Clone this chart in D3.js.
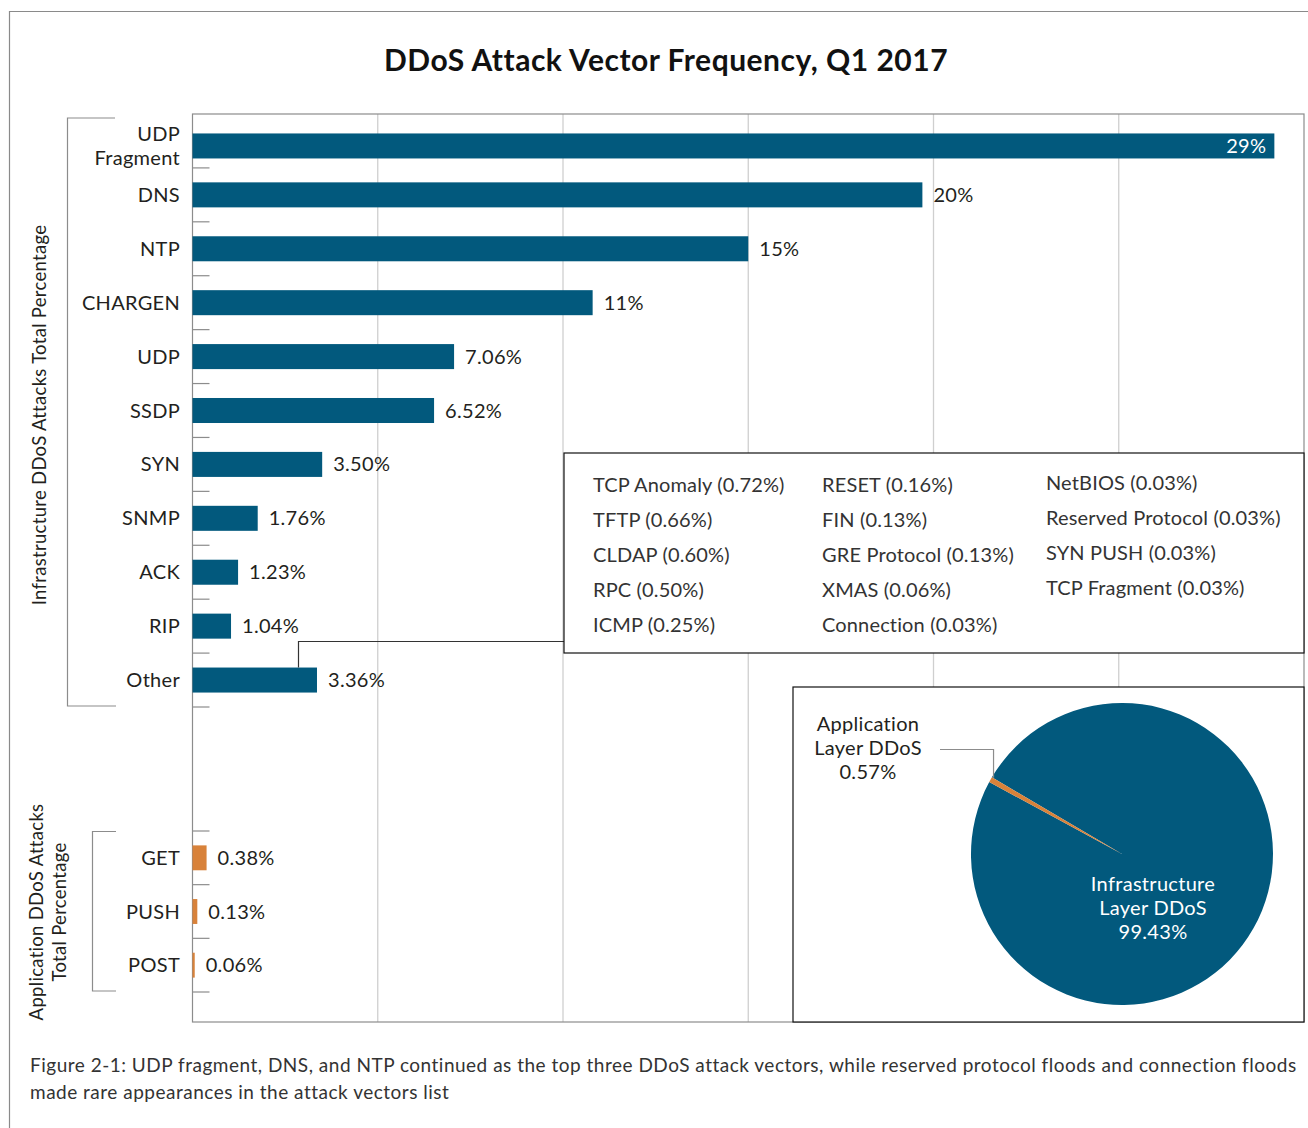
<!DOCTYPE html>
<html>
<head>
<meta charset="utf-8">
<script src="https://cdn.jsdelivr.net/npm/d3@7"></script>
<style>
  body { margin: 0; background: #fff; }
  svg text { font-family: Lato, "Open Sans", sans-serif; }
</style>
</head>
<body>
<svg id="chart" width="1308" height="1128"></svg>
<script>
// infrastructure vectors
var infraCats = ["UDP\nFragment", "DNS", "NTP", "CHARGEN", "UDP", "SSDP", "SYN", "SNMP", "ACK", "RIP", "Other"];
var infraVals = [29.2, 19.7, 15.0, 10.8, 7.06, 6.52, 3.50, 1.76, 1.23, 1.04, 3.36];
var infraLabels = ["29%", "20%", "15%", "11%", "7.06%", "6.52%", "3.50%", "1.76%", "1.23%", "1.04%", "3.36%"];

// application vectors
var appCats = ["GET", "PUSH", "POST"];
var appVals = [0.38, 0.13, 0.06];
var appLabels = ["0.38%", "0.13%", "0.06%"];

// what "Other" is made of
var otherCol1 = ["TCP Anomaly (0.72%)", "TFTP (0.66%)", "CLDAP (0.60%)", "RPC (0.50%)", "ICMP (0.25%)"];
var otherCol2 = ["RESET (0.16%)", "FIN (0.13%)", "GRE Protocol (0.13%)", "XMAS (0.06%)", "Connection (0.03%)"];
var otherCol3 = ["NetBIOS (0.03%)", "Reserved Protocol (0.03%)", "SYN PUSH (0.03%)", "TCP Fragment (0.03%)"];

// layer split
var pieNames = ["Infrastructure\nLayer DDoS\n99.43%", "Application\nLayer DDoS\n0.57%"];
var pieVals = [99.43, 0.57];

var gridTicks = [0, 5, 10, 15, 20, 25, 30];

var BLUE = "#02597d", ORANGE = "#d8823a", TXT = "#231f20";

var svg = d3.select("#chart");

// outer frame
svg.append("path").attr("d", "M9.5,1130 V11.5 H1310")
    .attr("fill", "none").attr("stroke", "#8a8a8a").attr("stroke-width", 1.2);

svg.append("text").attr("x", 666).attr("y", 71).attr("text-anchor", "middle")
    .style("font-size", "30px").style("font-weight", "bold").style("letter-spacing", "0.5px")
    .attr("fill", "#111")
    .text("DDoS Attack Vector Frequency, Q1 2017");

var pLeft = 192.5, pRight = 1304, pTop = 114, pBottom = 1022;
var x = d3.scaleLinear().domain([0, 30]).range([pLeft, pRight]);
var yI = d3.scaleBand().domain(infraCats).range([pTop, 707]).paddingInner(0.536).paddingOuter(0.268);
var yA = d3.scaleBand().domain(appCats).range([831, 992]).paddingInner(0.536).paddingOuter(0.268);

// first row sits a bit lower because of its two-line name
function yPos(scale, d) { return scale(d) + (d.indexOf("\n") >= 0 ? 5 : 0); }

// grid
svg.append("g").selectAll("line").data(gridTicks.slice(1, -1)).join("line")
    .attr("x1", function(d) { return x(d); }).attr("x2", function(d) { return x(d); })
    .attr("y1", pTop).attr("y2", pBottom)
    .attr("stroke", "#cfcfcf").attr("stroke-width", 1.3);

svg.append("rect").attr("x", pLeft).attr("y", pTop).attr("width", pRight - pLeft).attr("height", pBottom - pTop)
    .attr("fill", "none").attr("stroke", "#8c8c8c").attr("stroke-width", 1.2);

function drawGroup(scale, cats, vals, labels, color) {
    var g = svg.append("g");
    var half = scale.step() * scale.paddingInner() / 2;
    // tick marks at band edges
    var edges = [];
    cats.forEach(function(c, i) {
        if (i == 0 && scale(c) - half > pTop + 2) edges.push(scale(c) - half);
        edges.push(scale(c) + scale.bandwidth() + half);
    });
    g.selectAll("line.tk").data(edges).join("line")
        .attr("x1", pLeft).attr("x2", pLeft + 17)
        .attr("y1", function(d) { return d; }).attr("y2", function(d) { return d; })
        .attr("stroke", "#8c8c8c").attr("stroke-width", 1.2);

    g.selectAll("rect").data(cats).join("rect")
        .attr("x", x(0)).attr("y", function(d) { return yPos(scale, d); })
        .attr("width", function(d, i) { return x(vals[i]) - x(0); })
        .attr("height", scale.bandwidth())
        .attr("fill", color);

    // category names
    g.selectAll("text.cat").data(cats).join("text")
        .attr("class", "cat")
        .attr("x", 180)
        .attr("y", function(d) { return yPos(scale, d) + scale.bandwidth() / 2 + 7; })
        .attr("text-anchor", "end").attr("fill", TXT)
        .style("font-size", "20px").style("letter-spacing", "0.3px")
        .each(function(d) {
            var lines = d.split("\n");
            var t = d3.select(this);
            lines.forEach(function(l, j) {
                t.append("tspan").attr("x", 180)
                    .attr("dy", j == 0 ? (-(lines.length - 1) * 12) : 24).text(l);
            });
        });

    // value labels
    g.selectAll("text.val").data(cats).join("text")
        .attr("class", "val")
        .attr("x", function(d, i) { return vals[i] > 25 ? x(vals[i]) - 8 : x(vals[i]) + 11; })
        .attr("y", function(d) { return yPos(scale, d) + scale.bandwidth() / 2 + 7; })
        .attr("text-anchor", function(d, i) { return vals[i] > 25 ? "end" : "start"; })
        .attr("fill", function(d, i) { return vals[i] > 25 ? "#fff" : TXT; })
        .style("font-size", "20px").style("letter-spacing", "0.3px")
        .text(function(d, i) { return labels[i]; });
}
drawGroup(yI, infraCats, infraVals, infraLabels, BLUE);
drawGroup(yA, appCats, appVals, appLabels, ORANGE);

// brackets
svg.append("path").attr("d", "M115,118 H67.5 V706 H116")
    .attr("fill", "none").attr("stroke", "#8c8c8c").attr("stroke-width", 1.2);
svg.append("path").attr("d", "M116,831.5 H92.5 V991 H116")
    .attr("fill", "none").attr("stroke", "#8c8c8c").attr("stroke-width", 1.2);

svg.append("text").attr("transform", "translate(46,415) rotate(-90)")
    .attr("text-anchor", "middle").attr("fill", TXT)
    .style("font-size", "18.5px").style("letter-spacing", "0.3px")
    .text("Infrastructure DDoS Attacks Total Percentage");
var at = svg.append("text").attr("transform", "translate(43,912) rotate(-90)")
    .attr("text-anchor", "middle").attr("fill", TXT)
    .style("font-size", "18.5px").style("letter-spacing", "0.3px");
at.append("tspan").attr("x", 0).attr("dy", 0).text("Application DDoS Attacks");
at.append("tspan").attr("x", 0).attr("dy", 23).text("Total Percentage");

// connector from Other to the breakdown box
var oy = yI("Other");
svg.append("path").attr("d", "M298.5," + oy + " V641.5 H564")
    .attr("fill", "none").attr("stroke", "#333").attr("stroke-width", 1.2);

svg.append("rect").attr("x", 564).attr("y", 453).attr("width", 740).attr("height", 200)
    .attr("fill", "#fff").attr("stroke", "#111").attr("stroke-width", 1.2);

var cols = [[otherCol1, 593, 492], [otherCol2, 822, 492], [otherCol3, 1046, 490]];
cols.forEach(function(c) {
    svg.append("g").selectAll("text").data(c[0]).join("text")
        .attr("x", c[1]).attr("y", function(d, i) { return c[2] + i * 35; })
        .attr("fill", "#333").style("font-size", "20px").style("letter-spacing", "0.15px")
        .text(function(d) { return d; });
});

// pie panel
svg.append("rect").attr("x", 793).attr("y", 687).attr("width", 511).attr("height", 335)
    .attr("fill", "#fff").attr("stroke", "#111").attr("stroke-width", 1.2);

var cx = 1122, cy = 854, r = 151;
var pie = d3.pie().sort(null).startAngle(-59.5 * Math.PI / 180).endAngle(300.5 * Math.PI / 180);
var arc = d3.arc().innerRadius(0).outerRadius(r);
var pg = svg.append("g").attr("transform", "translate(" + cx + "," + cy + ")");
pg.selectAll("path").data(pie(pieVals)).join("path")
    .attr("d", arc).attr("fill", function(d, i) { return i == 0 ? BLUE : ORANGE; });

function multiLine(txt, tx, ty, color) {
    var t = svg.append("text").attr("x", tx).attr("y", ty).attr("text-anchor", "middle")
        .attr("fill", color).style("font-size", "20px").style("letter-spacing", "0.3px");
    txt.split("\n").forEach(function(l, j) {
        t.append("tspan").attr("x", tx).attr("dy", j == 0 ? 0 : 24).text(l);
    });
}
multiLine(pieNames[0], 1153, 891, "#fff");
multiLine(pieNames[1], 868, 731, TXT);

// leader to the thin slice
var appArc = pie(pieVals)[1];
var mid = (appArc.startAngle + appArc.endAngle) / 2;
var ex = cx + Math.sin(mid) * r, ey = cy - Math.cos(mid) * r;
svg.append("path").attr("d", "M940,749.5 H" + (ex + 3) + " V" + (ey - 2))
    .attr("fill", "none").attr("stroke", "#8c8c8c").attr("stroke-width", 1.2);

// caption
var cap = svg.append("text").attr("x", 30).attr("y", 1072).attr("fill", "#333")
    .style("font-size", "19px").style("letter-spacing", "0.5px");
cap.append("tspan").attr("x", 30).text("Figure 2-1: UDP fragment, DNS, and NTP continued as the top three DDoS attack vectors, while reserved protocol floods and connection floods");
cap.append("tspan").attr("x", 30).attr("dy", 27).text("made rare appearances in the attack vectors list");
</script>
</body>
</html>
